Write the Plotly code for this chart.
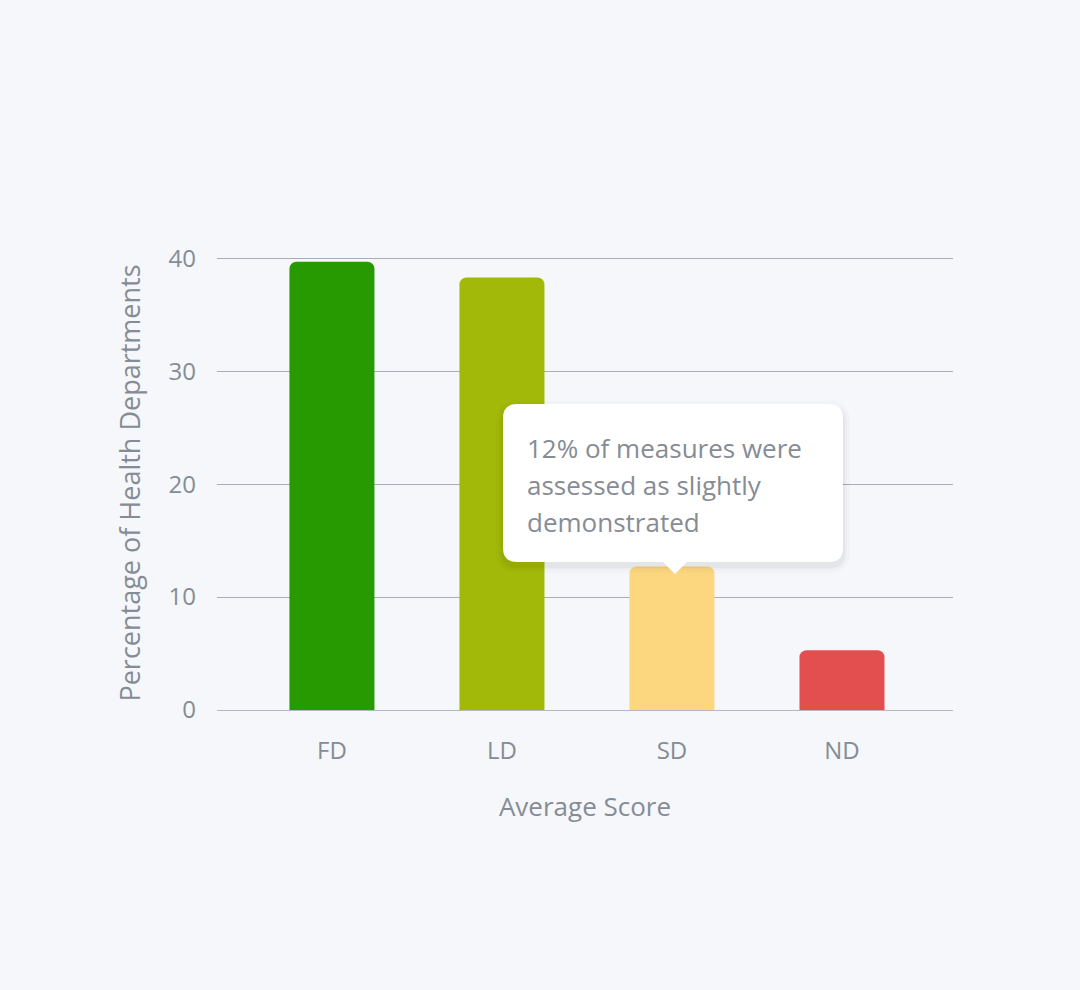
import plotly.graph_objects as go

# data
categories = ["FD", "LD", "SD", "ND"]
values = [39.7, 38.3, 12.7, 5.3]
bar_colors = ["#269a00", "#a2b909", "#fcd77f", "#e34f4f"]
tick_vals = [0, 10, 20, 30, 40]
note_lines = ["12% of measures were", "assessed as slightly", "demonstrated"]

W, H = 1080, 990
L, R, T, B = 217, 127, 256, 280
pw, ph = W - L - R, H - T - B
FONT = "Open Sans"
GREY = "#868c95"


def px(x):
    return (x - L) / pw


def py(y):
    return (H - B - y) / ph


def round_box(x0, y0, x1, y1, r, tip=None):
    # rounded rectangle in pixels -> paper path, optional pointer under it
    rx, ry = r / pw, r / ph
    a, b, c, d = px(x0), py(y1), px(x1), py(y0)  # left, bottom, right, top
    p = f"M{a+rx},{d} L{c-rx},{d} Q{c},{d} {c},{d-ry} L{c},{b+ry} Q{c},{b} {c-rx},{b} "
    if tip:
        tx, ty, tw = tip
        p += f"L{px(tx+tw)},{b} L{px(tx)},{py(ty)} L{px(tx-tw)},{b} "
    p += f"L{a+rx},{b} Q{a},{b} {a},{b+ry} L{a},{d-ry} Q{a},{d} {a+rx},{d} Z"
    return p


fig = go.Figure()
fig.add_trace(go.Bar(x=categories, y=values, marker=dict(color=bar_colors, line_width=0),
                     width=0.5, hoverinfo="skip"))

# tooltip shadow + box
for off, op in [(7, 0.015), (4, 0.025), (2, 0.03)]:
    fig.add_shape(type="path", xref="paper", yref="paper", layer="above",
                  path=round_box(503 - off, 404 - off + 4, 843 + off, 562 + off + 4, 14 + off),
                  fillcolor=f"rgba(0,0,0,{op})", line_width=0)
fig.add_shape(type="path", xref="paper", yref="paper", layer="above",
              path=round_box(503, 404, 843, 562, 14, tip=(675, 574, 12)),
              fillcolor="white", line_width=0)

for i, line in enumerate(note_lines):
    fig.add_annotation(text=line, xref="paper", yref="paper", x=px(525), y=py(448 + i * 37),
                       xanchor="left", yanchor="middle", showarrow=False,
                       font=dict(family=FONT, size=26, color=GREY))

fig.update_layout(
    width=W, height=H, margin=dict(l=L, r=R, t=T, b=B),
    paper_bgcolor="#f5f7fa", plot_bgcolor="#f5f7fa",
    barcornerradius=7, showlegend=False,
    font=dict(family=FONT, color=GREY),
    xaxis=dict(range=[-0.676, 3.653], showgrid=False, showline=True, linecolor="#b4b8bf", linewidth=1,
               ticks="", tickfont=dict(size=24, color=GREY), ticklabelstandoff=19,
               title=dict(text="Average Score", font=dict(size=26, color=GREY), standoff=33)),
    yaxis=dict(range=[0, 40.2], tickvals=tick_vals, showgrid=True, gridcolor="#a9aeb5", gridwidth=1,
               zeroline=False, showline=False, ticks="", tickfont=dict(size=24, color=GREY),
               ticklabelstandoff=20,
               title=dict(text="Percentage of Health Departments", font=dict(size=27, color=GREY), standoff=20)),
)

fig.write_html("out.html", config={"displayModeBar": False},
               post_script="document.body.style.margin='0';")
